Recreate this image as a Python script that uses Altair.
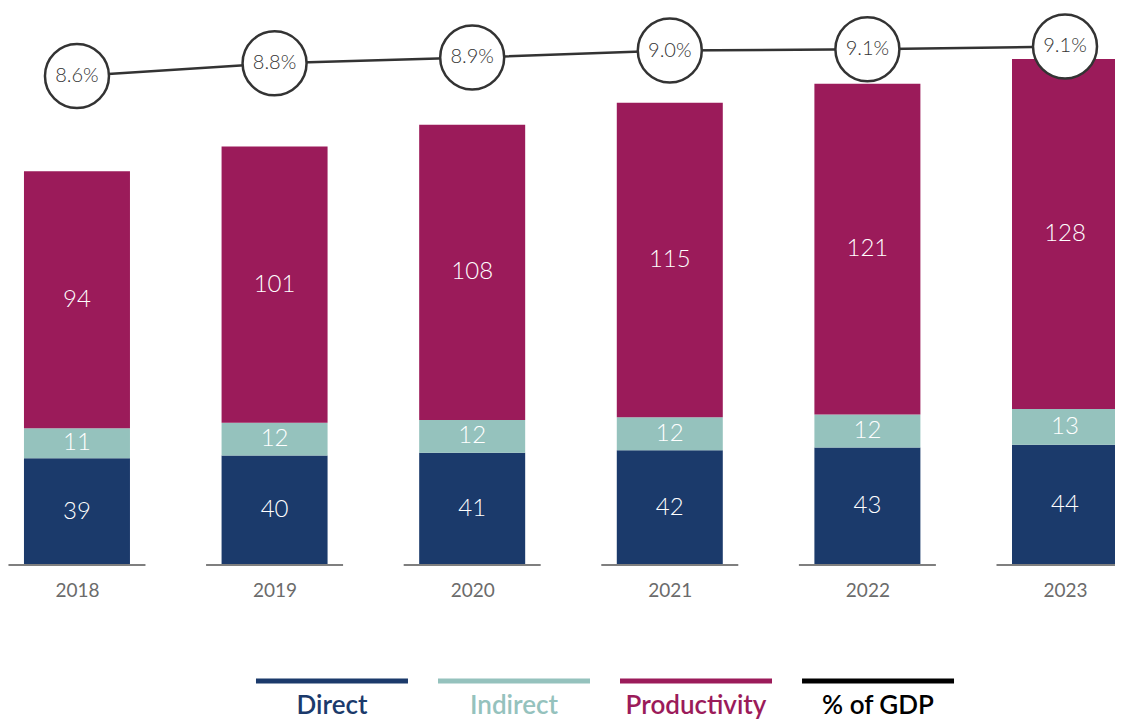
import altair as alt
import pandas as pd

years = [2018, 2019, 2020, 2021, 2022, 2023]
direct = [39, 40, 41, 42, 43, 44]
indirect = [11, 12, 12, 12, 12, 13]
productivity = [94, 101, 108, 115, 121, 128]
pct_gdp = [8.6, 8.82, 8.92, 9.04, 9.06, 9.11]
pct_labels = ["8.6%", "8.8%", "8.9%", "9.0%", "9.1%", "9.1%"]
series = ["Direct", "Indirect", "Productivity"]
colors = ["#1b3a6b", "#95c2bd", "#9b1b5a"]
legend_names = ["Direct", "Indirect", "Productivity", "% of GDP"]
legend_colors = ["#1b3a6b", "#95c2bd", "#9b1b5a", "#000000"]

FONT = "Lato"

rows = []
for i, y in enumerate(years):
    for k, (name, vals) in enumerate(zip(series, [direct, indirect, productivity])):
        rows.append({"year": y, "series": name, "value": vals[i], "order": k})
bars_df = pd.DataFrame(rows)
line_df = pd.DataFrame({"year": years, "pct": pct_gdp, "label": pct_labels})
legend_df = pd.DataFrame({"name": legend_names, "k": list(range(len(legend_names)))})

W = 1107
H = 711
xscale = alt.Scale(domain=[2017.651, 2023.253], nice=False, zero=False, padding=0)
yscale = alt.Scale(domain=[-56.31, 203.66], nice=False, zero=False, padding=0)
lscale = alt.Scale(domain=[-2.486, 9.773], nice=False, zero=False, padding=0)
legx = alt.Scale(domain=[-1.780, 4.302], nice=False, zero=False, padding=0)

xaxis = alt.Axis(values=years, format="d", domain=False, ticks=False, grid=False,
                 labelFontSize=19, labelColor="#6b6b6b", labelFont=FONT,
                 labelPadding=16, title=None, offset=-154)

X = alt.X("year:Q", scale=xscale, axis=xaxis)
XN = alt.X("year:Q", scale=xscale, axis=None)

base = alt.Chart(bars_df)

bars = base.mark_bar(size=106).encode(
    x=X,
    y=alt.Y("value:Q", stack="zero", scale=yscale, axis=None),
    color=alt.Color("series:N", scale=alt.Scale(domain=series, range=colors), legend=None),
    order=alt.Order("order:Q"),
)

bar_text = base.transform_stack(
    stack="value", groupby=["year"], as_=["v0", "v1"],
    sort=[alt.SortField("order", order="ascending")]
).transform_calculate(mid="(datum.v0 + datum.v1) / 2").mark_text(
    color="white", fontSize=24, font=FONT, fontWeight=300, baseline="middle"
).encode(
    x=X,
    y=alt.Y("mid:Q", scale=yscale, axis=None),
    text=alt.Text("value:Q"),
)

baseline_ticks = alt.Chart(line_df).transform_calculate(zero="0").mark_tick(
    orient="horizontal", size=137, thickness=2, color="#7f7f7f", clip=True, opacity=1
).encode(
    x=X,
    y=alt.Y("zero:Q", scale=yscale, axis=None),
)

line = alt.Chart(line_df).mark_line(color="#333333", strokeWidth=2.5).encode(
    x=XN,
    y=alt.Y("pct:Q", scale=lscale, axis=None),
)
circles = alt.Chart(line_df).mark_point(
    shape="circle", size=4096, filled=True, fill="white", stroke="#333333",
    strokeWidth=2.5, opacity=1
).encode(
    x=XN,
    y=alt.Y("pct:Q", scale=lscale, axis=None),
)
pct_text = alt.Chart(line_df).mark_text(
    color="#333333", fontSize=20, font=FONT, fontWeight=300, baseline="middle"
).encode(
    x=XN,
    y=alt.Y("pct:Q", scale=lscale, axis=None),
    text="label:N",
)

LX = alt.X("k:Q", scale=legx, axis=None)
lcolor = alt.Color("name:N", scale=alt.Scale(domain=legend_names, range=legend_colors), legend=None)

leg_lines = alt.Chart(legend_df).mark_tick(
    orient="horizontal", size=152, thickness=5, opacity=1
).encode(x=LX, y=alt.value(673), color=lcolor)
leg_text = alt.Chart(legend_df).mark_text(
    fontSize=26, font=FONT, fontWeight=600, baseline="middle"
).encode(x=LX, y=alt.value(698), text="name:N", color=lcolor)

chart = alt.layer(
    alt.layer(bars, bar_text, baseline_ticks),
    alt.layer(line, circles, pct_text),
    alt.layer(leg_lines, leg_text),
).resolve_scale(x="independent", y="independent", color="independent").properties(
    width=W, height=H, padding=0, autosize=alt.AutoSizeParams(type="none")
).configure_view(stroke=None)

chart.save("out.html", embed_options={"renderer": "svg", "actions": False})
